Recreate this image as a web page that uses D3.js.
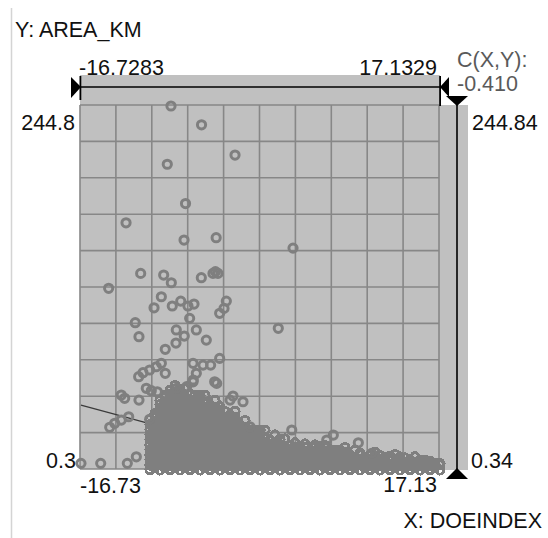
<!DOCTYPE html>
<html>
<head>
<meta charset="utf-8">
<script src="https://cdn.jsdelivr.net/npm/d3@7"></script>
<style>
  html, body { margin: 0; padding: 0; background: #ffffff; }
  svg { display: block; font-family: "Liberation Sans", Arial, sans-serif; }
</style>
</head>
<body>
<svg id="chart" width="548" height="538"></svg>
<script>
// Axis extents and labels
const xDomain = [-16.7283, 17.1329];
const yDomain = [0.34, 244.84];
const xEndLabels = ["-16.73", "17.13"];
const xRangeLabels = ["-16.7283", "17.1329"];
const yEndLabels = ["0.3", "244.8"];
const yRangeLabels = ["0.34", "244.84"];
const xTitle = "X: DOEINDEX";
const yTitle = "Y: AREA_KM";
const corrLabel = "C(X,Y):";
const corrValue = -0.410;

// Least-squares fit of AREA_KM on DOEINDEX
const fitSlope = -1.93;
const fitIntercept = 11.7;

const gridDivisions = 10;

// Scattered observations above the main mass [DOEINDEX, AREA_KM]
const outlierPoints = [
  [-8.24, 244.84], [-5.36, 232.2], [-8.59, 205.7], [-2.20, 211.9], [-6.87, 179.3],
  [-12.48, 166.4], [-7.01, 154.8], [-3.98, 156.4], [3.27, 149.4], [-11.10, 132.4],
  [-8.93, 131.3], [-8.21, 126.1], [-5.38, 129.5], [-4.28, 132.4], [-3.81, 132.4],
  [-4.05, 133.6], [-14.12, 122.4], [-9.15, 116.7], [-9.84, 109.3], [-8.12, 110.5],
  [-7.32, 113.8], [-6.64, 110.5], [-6.07, 111.8], [-3.02, 113.8], [-3.24, 108.9],
  [-3.65, 105.6], [-6.48, 102.2], [-11.61, 99.3], [-7.74, 94.4], [-5.85, 94.4],
  [1.88, 95.5], [-11.26, 89.9], [-6.99, 90.3], [-7.77, 85.6], [-4.91, 87.6],
  [-8.78, 81.4], [-9.15, 72.0], [-9.63, 69.7], [-10.25, 67.5], [-10.88, 65.7],
  [-11.29, 63.0], [-8.78, 65.3], [-6.16, 72.0], [-5.22, 70.8], [-4.50, 70.8],
  [-3.65, 75.3], [-5.85, 65.3], [-6.16, 59.6], [-4.12, 59.6], [-10.57, 55.2],
  [-10.10, 53.6], [-9.53, 52.9], [-12.93, 50.7], [-12.61, 48.5], [-11.26, 47.3],
  [-2.39, 50.0], [-1.45, 46.2], [-12.23, 36.1], [-12.93, 33.9], [-13.55, 31.7],
  [-14.02, 29.0], [-10.25, 34.4], [-16.73, 4.8], [-14.87, 4.8], [-12.36, 4.8],
  [-11.51, 9.2], [3.15, 27.2], [7.07, 23.8], [6.45, 20.5], [9.43, 18.6],
  [10.69, 11.5], [-0.79, 29.4], [-7.70, 55.2], [-6.76, 56.3], [-3.93, 58.5],
  [-6.14, 60.8], [-2.67, 47.3]
];

// Dense body of observations, grouped by DOEINDEX: [DOEINDEX, [AREA_KM ...]]
const clusterColumns = [
  [-10.22, [0.4, 3.6, 7.3, 10.4, 13.9, 17.1, 20.8, 24.0, 27.3, 30.9, 34.2]],
  [-9.75, [2.1, 5.2, 8.9, 12.0, 15.7, 18.8, 22.6, 25.7, 29.3, 32.4, 36.1, 38.2]],
  [-9.28, [0.34, 3.8, 7.0, 10.6, 13.8, 17.5, 20.6, 24.2, 27.4, 31.0, 34.1, 37.8, 40.9, 44.3, 47.0]],
  [-8.80, [1.9, 5.5, 8.6, 12.3, 15.4, 19.1, 22.2, 25.9, 29.0, 32.7, 35.8, 39.2, 42.6, 45.8, 49.4, 50.5]],
  [-8.33, [0.5, 3.7, 7.2, 10.3, 14.0, 17.2, 20.7, 23.9, 27.5, 30.6, 34.3, 37.4, 41.0, 44.2, 47.6, 50.9, 54.0]],
  [-7.86, [2.0, 5.3, 8.8, 12.1, 15.5, 18.9, 22.3, 25.6, 29.1, 32.3, 35.9, 39.0, 42.7, 45.9, 49.3, 52.6, 57.0]],
  [-7.39, [0.34, 3.9, 7.0, 10.7, 13.8, 17.4, 20.5, 24.1, 27.2, 30.8, 34.0, 37.6, 40.8, 44.3, 47.5, 51.0, 54.4]],
  [-6.92, [1.8, 5.4, 8.7, 12.2, 15.3, 19.0, 22.1, 25.8, 28.9, 32.5, 35.7, 39.3, 42.4, 46.0, 49.1, 54.9]],
  [-6.45, [0.4, 3.6, 7.1, 10.5, 13.9, 17.0, 20.8, 23.9, 27.4, 30.7, 34.2, 37.3, 41.0, 44.1, 47.7, 51.2]],
  [-5.98, [2.1, 5.3, 8.9, 12.0, 15.6, 18.7, 22.4, 25.5, 29.2, 32.3, 35.9, 39.1, 42.6, 45.7, 50.3]],
  [-5.50, [0.34, 3.8, 7.1, 10.4, 14.1, 17.2, 20.6, 24.0, 27.3, 30.9, 34.0, 37.6, 40.7, 44.4, 47.5, 50.5]],
  [-5.03, [1.9, 5.5, 8.6, 12.3, 15.4, 19.1, 22.2, 25.7, 29.0, 32.6, 35.7, 39.3, 42.5, 45.9, 50.4]],
  [-4.56, [0.5, 3.6, 7.3, 10.5, 13.7, 17.3, 20.5, 24.1, 27.2, 30.8, 33.9, 37.5, 40.6, 44.0]],
  [-4.09, [2.0, 5.3, 8.8, 12.1, 15.6, 18.8, 22.4, 25.6, 29.1, 32.2, 35.8, 39.0, 42.3, 47.1]],
  [-3.62, [0.34, 3.9, 7.0, 10.6, 13.8, 17.1, 20.7, 23.8, 27.4, 30.5, 34.1, 37.2, 40.6, 42.8]],
  [-3.14, [1.8, 5.4, 8.7, 12.2, 15.4, 19.0, 22.1, 25.7, 28.9, 32.4, 35.6, 39.6]],
  [-2.67, [0.4, 3.7, 7.2, 10.3, 14.0, 17.1, 20.6, 24.0, 27.3, 30.7, 34.0, 37.3]],
  [-2.20, [2.1, 5.2, 8.9, 12.0, 15.5, 18.9, 22.3, 25.6, 29.0, 32.3, 35.5, 39.8]],
  [-1.73, [0.34, 3.8, 7.1, 10.4, 13.9, 17.2, 20.6, 23.9, 27.4, 30.6]],
  [-1.26, [1.9, 5.4, 8.7, 12.1, 15.5, 18.8, 22.2, 25.5, 28.9, 33.6]],
  [-0.79, [0.4, 3.6, 7.2, 10.5, 13.8, 17.1, 20.7, 23.8, 27.2]],
  [-0.32, [2.0, 5.3, 8.8, 12.1, 15.6, 18.7, 22.3, 26.9]],
  [0.16, [0.34, 3.9, 7.0, 10.6, 13.9, 17.2, 20.4, 23.9, 27.1]],
  [0.63, [1.8, 5.5, 8.6, 12.2, 15.3, 18.9, 22.0, 27.0]],
  [1.10, [0.5, 3.7, 7.3, 10.4, 13.8, 17.1, 20.6]],
  [1.57, [2.1, 5.2, 8.9, 12.0, 15.4, 18.8, 23.9]],
  [2.04, [0.34, 3.8, 7.1, 10.5, 13.7, 17.2, 20.9]],
  [2.51, [1.9, 5.4, 8.7, 12.1, 15.5, 21.2]],
  [2.99, [0.4, 3.6, 7.2, 10.3, 13.9, 17.0]],
  [3.46, [2.0, 5.3, 8.8, 12.0, 15.2, 18.6]],
  [3.93, [0.34, 3.9, 7.0, 10.6, 13.7, 16.3]],
  [4.40, [1.8, 5.5, 8.6, 12.2, 15.4, 17.9]],
  [4.87, [0.5, 3.7, 7.3, 10.4, 13.9]],
  [5.34, [2.1, 5.2, 8.9, 12.0, 15.6, 17.2]],
  [5.81, [0.34, 3.8, 7.1, 10.5, 13.8, 16.2]],
  [6.29, [1.9, 5.4, 8.7, 12.1, 16.8]],
  [6.76, [0.4, 3.6, 7.2, 10.3, 13.9]],
  [7.23, [2.0, 5.3, 8.8, 12.0, 13.6]],
  [7.70, [0.34, 3.9, 7.0, 10.6, 13.7]],
  [8.17, [1.8, 5.5, 8.6, 12.2, 15.4]],
  [8.64, [0.5, 3.7, 7.3, 10.4]],
  [9.11, [2.1, 5.2, 8.9, 13.5]],
  [9.59, [0.34, 3.8, 7.1, 10.5, 11.8]],
  [10.06, [1.9, 5.4, 8.7]],
  [10.53, [0.4, 3.6, 7.2, 10.3]],
  [11.00, [2.0, 5.3, 8.8, 12.3]],
  [11.47, [0.34, 3.9, 7.0, 10.1]],
  [11.94, [1.8, 5.5, 8.6]],
  [12.42, [0.5, 3.7, 7.3, 9.5]],
  [12.89, [2.1, 5.2, 10.6]],
  [13.36, [0.34, 3.8, 7.1, 9.1]],
  [13.83, [1.9, 5.4, 8.4]],
  [14.30, [0.4, 3.6, 7.2]],
  [14.77, [2.0, 5.3, 9.2]],
  [15.25, [0.34, 3.9, 7.0]],
  [15.72, [1.8, 5.5, 6.9]],
  [16.19, [0.5, 3.7, 6.1]],
  [16.66, [2.1, 5.0]],
  [17.13, [0.34, 3.8, 4.6]]
];

// ---- layout ----
const panel = { left: 80, top: 105, right: 439, bottom: 469 };
const svg = d3.select("#chart");

const x = d3.scaleLinear().domain(xDomain).range([81, 440]);
const y = d3.scaleLinear().domain(yDomain).range([470, 106]);
const gx = d3.scaleLinear().domain([0, gridDivisions]).range([panel.left, panel.right]);
const gy = d3.scaleLinear().domain([0, gridDivisions]).range([panel.top, panel.bottom]);

const panelFill = "#c0c0c0";
const gridColor = "#878787";
const pointColor = "#7f7f7f";

// Window edge on the left
svg.append("line")
  .attr("x1", 11.5).attr("x2", 11.5).attr("y1", 8).attr("y2", 538)
  .attr("stroke", "#d4d4d4").attr("stroke-width", 1.5);

// Range slider band above the panel
svg.append("rect")
  .attr("x", panel.left).attr("y", 75)
  .attr("width", x(xDomain[1]) - panel.left).attr("height", panel.top - 75)
  .attr("fill", panelFill);

// Plot panel
svg.append("rect")
  .attr("x", panel.left).attr("y", panel.top)
  .attr("width", panel.right - panel.left).attr("height", panel.bottom - panel.top)
  .attr("fill", panelFill);

// Range slider band right of the panel
svg.append("rect")
  .attr("x", panel.right).attr("y", panel.top)
  .attr("width", 29).attr("height", 365)
  .attr("fill", panelFill);

// Grid
const grid = svg.append("g").attr("stroke", gridColor).attr("stroke-width", 1.6);
grid.selectAll("line.v").data(d3.range(gridDivisions + 1)).join("line")
  .attr("class", "v")
  .attr("x1", d => gx(d)).attr("x2", d => gx(d))
  .attr("y1", panel.top).attr("y2", panel.bottom);
grid.selectAll("line.h").data(d3.range(gridDivisions + 1)).join("line")
  .attr("class", "h")
  .attr("x1", panel.left).attr("x2", panel.right)
  .attr("y1", d => gy(d)).attr("y2", d => gy(d));

// Fit line, clipped to the panel
svg.append("clipPath").attr("id", "panel-clip")
  .append("rect")
  .attr("x", panel.left).attr("y", panel.top)
  .attr("width", panel.right - panel.left).attr("height", panel.bottom - panel.top);
const fitY = v => fitIntercept + fitSlope * v;
svg.append("line")
  .attr("clip-path", "url(#panel-clip)")
  .attr("x1", x(xDomain[0])).attr("y1", y(fitY(xDomain[0])))
  .attr("x2", x(xDomain[1])).attr("y2", y(fitY(xDomain[1])))
  .attr("stroke", "#3a3a3a").attr("stroke-width", 1.3);

// Points: the dense body is drawn without anti-aliasing so overlapping rings merge solidly
const clusterPoints = clusterColumns.flatMap(([xv, ys]) => ys.map(yv => [xv, yv]));
svg.append("g")
  .attr("fill", "none").attr("stroke", pointColor).attr("stroke-width", 3.0)
  .attr("shape-rendering", "crispEdges")
  .selectAll("circle").data(clusterPoints).join("circle")
  .attr("cx", d => x(d[0])).attr("cy", d => y(d[1])).attr("r", 4.1);
svg.append("g")
  .attr("fill", "none").attr("stroke", pointColor).attr("stroke-width", 3.0)
  .selectAll("circle").data(outlierPoints).join("circle")
  .attr("cx", d => x(d[0])).attr("cy", d => y(d[1])).attr("r", 4.1);

// Slider tracks
svg.append("line")
  .attr("x1", panel.left).attr("x2", x(xDomain[1]))
  .attr("y1", 87).attr("y2", 87)
  .attr("stroke", "#000").attr("stroke-width", 1.6);
svg.append("line")
  .attr("x1", 457).attr("x2", 457)
  .attr("y1", 100).attr("y2", 470)
  .attr("stroke", "#000").attr("stroke-width", 1.6);

// Slider handles
const handles = svg.append("g").attr("fill", "#000");
handles.append("path").attr("d", "M71,77 L81,87 L71,98 Z");
handles.append("rect").attr("x", 79.5).attr("y", 76).attr("width", 1.8).attr("height", 24);
handles.append("path").attr("d", "M449,77 L440,87 L449,97 Z");
handles.append("rect").attr("x", 439.2).attr("y", 76).attr("width", 1.8).attr("height", 30);
handles.append("path").attr("d", "M446,96 L468,96 L457,106 Z");
handles.append("path").attr("d", "M457,468 L446,479 L468,479 Z");

// Labels
const fontSize = "21.5px";
const label = (txt, px, py, anchor, color) => svg.append("text")
  .attr("x", px).attr("y", py)
  .attr("text-anchor", anchor || "start")
  .attr("font-size", fontSize)
  .attr("fill", color || "#111")
  .text(txt);

label(yTitle, 15, 37);
label(xTitle, 542, 528, "end");

label(xRangeLabels[0], 79, 75);
label(xRangeLabels[1], 437, 75, "end");
label(xEndLabels[0], 80, 493);
label(xEndLabels[1], 437, 492, "end");

label(yEndLabels[1], 75, 130, "end");
label(yEndLabels[0], 76, 468, "end");
label(yRangeLabels[1], 472, 130);
label(yRangeLabels[0], 471, 468);

label(corrLabel, 457, 67, "start", "#5a5a5a");
label(corrValue.toFixed(3), 457, 91, "start", "#5a5a5a");
</script>
</body>
</html>
